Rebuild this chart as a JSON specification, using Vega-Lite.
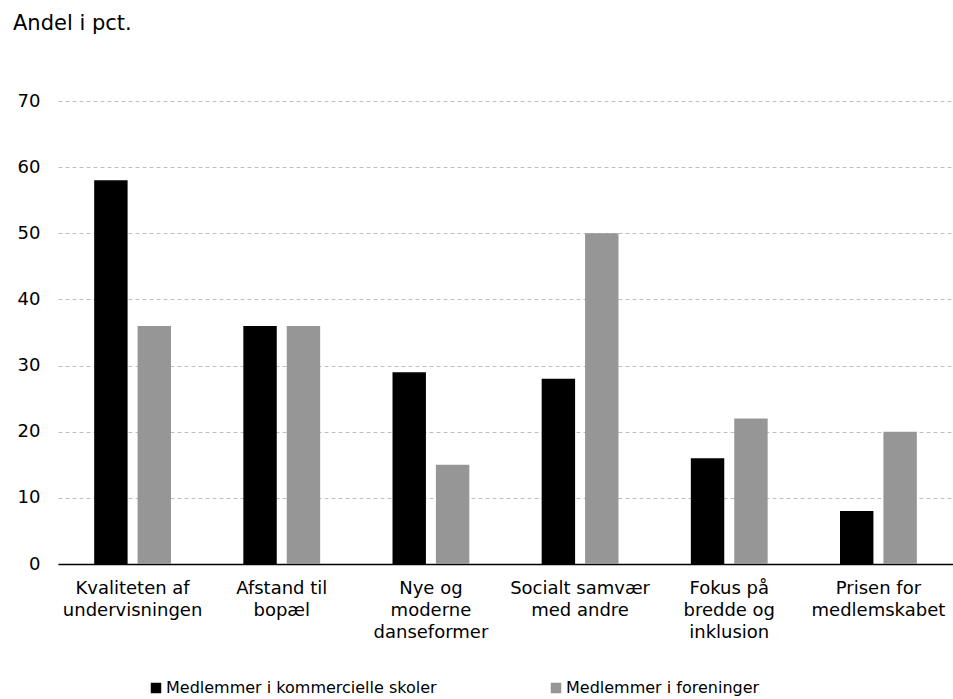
{
  "$schema": "https://vega.github.io/schema/vega-lite/v6.json",
  "autosize": "none",
  "width": 895,
  "height": 463,
  "padding": {"left": 58, "top": 101, "right": 0, "bottom": 135},
  "background": "white",
  "title": {
    "text": "Andel i pct.",
    "anchor": "start",
    "frame": "group",
    "orient": "top",
    "dx": -45,
    "offset": 41,
    "baseline": "alphabetic",
    "font": "DejaVu Sans",
    "fontSize": 21,
    "fontWeight": "normal",
    "color": "#000000"
  },
  "data": {
    "values": [
      {"kategori": "Kvaliteten af|undervisningen", "gruppe": "Medlemmer i kommercielle skoler", "andel": 58},
      {"kategori": "Kvaliteten af|undervisningen", "gruppe": "Medlemmer i foreninger", "andel": 36},
      {"kategori": "Afstand til|bopæl", "gruppe": "Medlemmer i kommercielle skoler", "andel": 36},
      {"kategori": "Afstand til|bopæl", "gruppe": "Medlemmer i foreninger", "andel": 36},
      {"kategori": "Nye og|moderne|danseformer", "gruppe": "Medlemmer i kommercielle skoler", "andel": 29},
      {"kategori": "Nye og|moderne|danseformer", "gruppe": "Medlemmer i foreninger", "andel": 15},
      {"kategori": "Socialt samvær|med andre", "gruppe": "Medlemmer i kommercielle skoler", "andel": 28},
      {"kategori": "Socialt samvær|med andre", "gruppe": "Medlemmer i foreninger", "andel": 50},
      {"kategori": "Fokus på|bredde og|inklusion", "gruppe": "Medlemmer i kommercielle skoler", "andel": 16},
      {"kategori": "Fokus på|bredde og|inklusion", "gruppe": "Medlemmer i foreninger", "andel": 22},
      {"kategori": "Prisen for|medlemskabet", "gruppe": "Medlemmer i kommercielle skoler", "andel": 8},
      {"kategori": "Prisen for|medlemskabet", "gruppe": "Medlemmer i foreninger", "andel": 20}
    ]
  },
  "mark": {"type": "bar"},
  "encoding": {
    "x": {
      "field": "kategori",
      "type": "nominal",
      "sort": null,
      "scale": {"paddingInner": 0.485, "paddingOuter": 0.2425},
      "axis": {
        "title": null,
        "labelAngle": 0,
        "labelExpr": "split(datum.label, '|')",
        "labelFont": "DejaVu Sans",
        "labelFontSize": 18,
        "labelLineHeight": 22,
        "labelColor": "#000000",
        "labelPadding": 15,
        "labelBaseline": "top",
        "ticks": false,
        "domainColor": "#000000",
        "domainWidth": 1.3,
        "grid": false
      }
    },
    "xOffset": {
      "field": "gruppe",
      "type": "nominal",
      "sort": ["Medlemmer i kommercielle skoler", "Medlemmer i foreninger"],
      "scale": {"paddingInner": 0.23}
    },
    "y": {
      "field": "andel",
      "type": "quantitative",
      "scale": {"domain": [0, 70]},
      "axis": {
        "title": null,
        "values": [0, 10, 20, 30, 40, 50, 60, 70],
        "labelFont": "DejaVu Sans",
        "labelFontSize": 18,
        "labelColor": "#000000",
        "labelPadding": 18,
        "ticks": false,
        "domain": false,
        "grid": true,
        "gridColor": "#bfbfbf",
        "gridDash": [4, 3],
        "gridWidth": 1
      }
    },
    "color": {
      "field": "gruppe",
      "type": "nominal",
      "sort": ["Medlemmer i kommercielle skoler", "Medlemmer i foreninger"],
      "scale": {
        "domain": ["Medlemmer i kommercielle skoler", "Medlemmer i foreninger"],
        "range": ["#000000", "#969696"]
      },
      "legend": {
        "title": null,
        "orient": "none",
        "legendX": 90,
        "legendY": 579,
        "direction": "horizontal",
        "symbolType": "square",
        "symbolSize": 110,
        "symbolStrokeWidth": 0,
        "labelOffset": 2,
        "columnPadding": 111,
        "labelFont": "DejaVu Sans",
        "labelFontSize": 16,
        "labelColor": "#000000",
        "labelLimit": 400
      }
    }
  },
  "config": {
    "view": {"stroke": null}
  }
}
